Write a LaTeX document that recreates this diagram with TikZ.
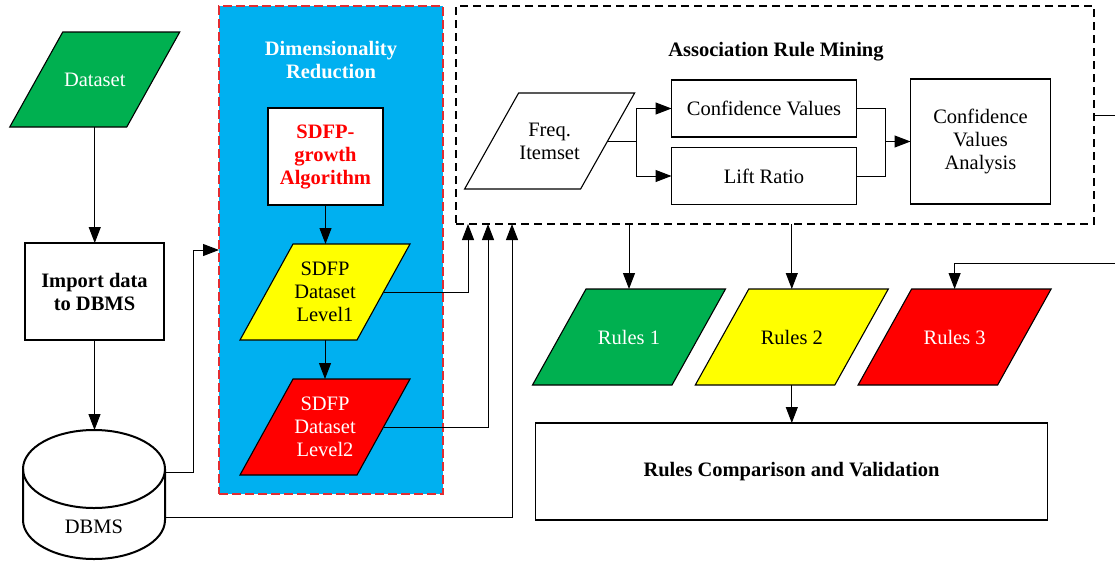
\documentclass[tikz,border=0pt]{standalone}
\usepackage{fontspec}
\setmainfont{Liberation Serif}
\usetikzlibrary{arrows.meta,calc}
\definecolor{cgreen}{RGB}{0,176,80}
\definecolor{cblue}{RGB}{0,176,240}
\definecolor{cred}{RGB}{255,0,0}
\definecolor{cyellow}{RGB}{255,255,0}
\definecolor{cborder}{RGB}{225,45,50}
\newcommand\fsz{\fontsize{20.5}{23}\selectfont}
\newcommand\mypara[9]{%
  \draw[box,fill=#7] (#2-#4/2-#6/2,#3-#5/2) -- (#2+#4/2-#6/2,#3-#5/2) -- (#2+#4/2+#6/2,#3+#5/2) -- (#2-#4/2+#6/2,#3+#5/2) -- cycle;
  \node[txt,text=#8,minimum width=#4,minimum height=#5] (#1) at (#2,#3) {#9};}
\begin{document}
\begin{tikzpicture}[x=1pt,y=1pt,
  box/.style={line width=1.1pt},
  txt/.style={inner sep=0pt,outer sep=0pt,align=center,font=\fsz},
  plainbox/.style={draw,line width=1.1pt,fill=white,inner sep=0pt,outer sep=0pt,align=center,font=\fsz},
  conn/.style={line width=1pt},
  arr/.style={line width=1pt,-{Triangle[length=16pt,width=12pt]}}]
\useasboundingbox (0,0) rectangle (1115,-560);
\clip (0,0) rectangle (1115,-560);

% Dimensionality reduction container
\node[draw=cborder,fill=cblue,dash pattern=on 9pt off 4pt,line width=1.3pt,minimum width=224,minimum height=488,inner sep=0pt,outer sep=0pt] (dr) at (331,-250) {};
\node[txt,text=white,font=\fsz\bfseries] (drt) at (331,-60) {Dimensionality\\Reduction};

% ARM container
\node[draw,dash pattern=on 8pt off 5pt,line width=1.1pt,minimum width=638,minimum height=218,inner sep=0pt,outer sep=0pt] (arm) at (775,-115) {};
\node[txt,font=\fsz\bfseries] (armt) at (776,-52) {Association Rule Mining};

% left column
\mypara{ds}{94.75}{-79.5}{117}{95}{53}{cgreen}{white}{Dataset}
\node[plainbox,minimum width=139,minimum height=97,font=\fsz\bfseries] (imp) at (94.5,-291.5) {Import data\\to DBMS};

% DBMS cylinder
\fill[white] (23,-469) -- (23,-520) arc[start angle=180,end angle=360,x radius=71,y radius=39] -- (165,-469) arc[start angle=0,end angle=180,x radius=71,y radius=39] -- cycle;
\draw[line width=2pt] (23,-469) -- (23,-520) arc[start angle=180,end angle=360,x radius=71,y radius=39] -- (165,-469);
\draw[line width=2pt] (94,-469) ellipse[x radius=71,y radius=39];
\node[txt,minimum width=142,minimum height=129] (db) at (94,-494.5) {};
\node[txt] (dbt) at (94,-527) {DBMS};

% inside dimensionality reduction
\node[plainbox,text=red,font=\fsz\bfseries,minimum width=115,minimum height=97] (alg) at (325.5,-156.5) {SDFP-\\growth\\Algorithm};
\mypara{l1}{325}{-292}{117}{96}{53}{cyellow}{black}{SDFP\\Dataset\\Level1}
\mypara{l2}{325}{-427}{117}{96}{53}{cred}{white}{SDFP\\Dataset\\Level2}

% inside ARM
\mypara{fi}{549.6}{-141}{116}{96}{54}{white}{black}{Freq.\\Itemset}
\node[plainbox,minimum width=185,minimum height=57] (cv) at (764,-108.5) {Confidence Values};
\node[plainbox,minimum width=185,minimum height=57] (lr) at (764,-176) {Lift Ratio};
\node[plainbox,minimum width=140,minimum height=125] (cva) at (980.5,-141.5) {Confidence\\Values\\Analysis};

% rules
\mypara{r1}{629}{-337}{139.5}{96}{53.5}{cgreen}{white}{Rules 1}
\mypara{r2}{791.8}{-337}{139.5}{96}{53.5}{cyellow}{black}{Rules 2}
\mypara{r3}{954.6}{-337}{139.5}{96}{53.5}{cred}{white}{Rules 3}
\node[plainbox,font=\fsz\bfseries,minimum width=512,minimum height=97] (cmp) at (791.5,-471.5) {Rules Comparison and Validation};

% connectors
\draw[arr] (ds.south) -- (ds.south |- imp.north);
\draw[arr] (imp.south) -- (imp.south |- db.north);
\draw[arr] (alg.south) -- (alg.south |- l1.north);
\draw[arr] (l1.south) -- (l2.north);
\draw[arr] ($(db.east)+(0,22.5)$) -- ++(28,0) |- (dr.west);
\draw[arr] (l1.east) -| ($(arm.south west)+(12,0)$);
\draw[arr] (l2.east) -| ($(arm.south west)+(32,0)$);
\draw[arr] ($(db.east)+(0,-22.5)$) -| ($(arm.south west)+(56,0)$);

\coordinate (sp) at (636,-141);
\draw[conn] (fi.east) -- (sp);
\draw[arr] (sp) |- (cv.west);
\draw[arr] (sp) |- (lr.west);
\coordinate (jn) at (885.5,-141.5);
\draw[conn] (cv.east) -| (jn);
\draw[conn] (lr.east) -| (jn);
\draw[arr] (jn) -- (cva.west);

\draw[arr] (arm.south -| r1.north) -- (r1.north);
\draw[arr] (arm.south -| r2.north) -- (r2.north);
\coordinate (loop) at (1125,-263);
\draw[arr] (arm.east) -| (loop) -| (r3.north);
\draw[arr] (r2.south) -- (r2.south |- cmp.north);
\end{tikzpicture}
\end{document}
